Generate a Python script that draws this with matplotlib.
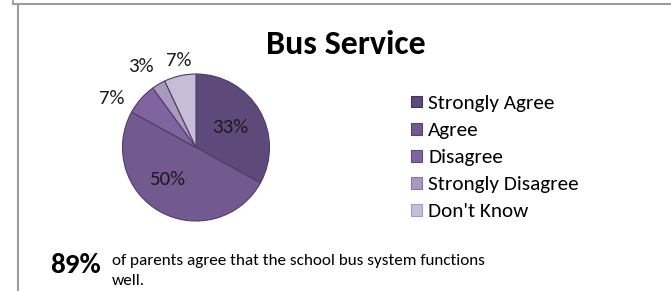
import matplotlib
matplotlib.use("Agg")
import matplotlib.pyplot as plt
from matplotlib.patches import Rectangle
from matplotlib.lines import Line2D
import colorsys
import matplotlib.colors as mcolors

# ---- data ----
categories = ["Strongly Agree", "Agree", "Disagree", "Strongly Disagree", "Don't Know"]
values = [33, 50, 7, 3, 7]
pct_labels = ["33%", "50%", "7%", "3%", "7%"]
title = "Bus Service"
headline_value = "89%"
headline_text = ["of parents agree that the school bus system functions", "well."]

# ---- style ----
colors = ["#5E4A7A", "#725A90", "#8064A2", "#A99ABD", "#C8BDD8"]
edge = "#4E3D66"
label_dist = [0.54, 0.59, 1.33, 1.33, 1.20]
label_ang_off = [0.4, -13.1, 11.3, 3.7, -1.6]
FONT = ["Carlito", "DejaVu Sans"]

W, H = 671, 291
fig = plt.figure(figsize=(W / 100, H / 100), dpi=100)
fig.patch.set_facecolor("white")

def fx(px):
    return px / W

def fy(py):
    return 1 - py / H

# border lines
border = "#9C9C9C"
fig.add_artist(Line2D([fx(13), fx(13)], [fy(0), fy(4)], color=border, lw=1.3, transform=fig.transFigure))
fig.add_artist(Line2D([fx(13), fx(W)], [fy(4), fy(4)], color=border, lw=1.5, transform=fig.transFigure))
fig.add_artist(Line2D([fx(18), fx(18)], [fy(4), fy(H)], color=border, lw=1.5, transform=fig.transFigure))

# pie
cx, cy, r = 196, 147.5, 73.5
ax = fig.add_axes([fx(cx - r), fy(cy + r), 2 * r / W, 2 * r / H])
wedges, _ = ax.pie(values, startangle=90, counterclock=False, colors=colors,
                   wedgeprops=dict(edgecolor=edge, linewidth=0.8))
ax.set_xlim(-1, 1)
ax.set_ylim(-1, 1)
ax.set_aspect("auto")
ax.axis("off")

import math
for w, lab, d, off in zip(wedges, pct_labels, label_dist, label_ang_off):
    mid = (w.theta1 + w.theta2) / 2 + off
    x = d * math.cos(math.radians(mid))
    y = d * math.sin(math.radians(mid))
    ax.text(x, y, lab, ha="center", va="center", fontsize=15, family=FONT,
            color="#1A1A1A", clip_on=False)

# title
fig.text(fx(345.5), fy(53.5), title, ha="center", va="baseline", fontsize=24.5,
         fontweight="bold", family=FONT, color="black")

# legend (manual)
sq = 11.5
for i, (cat, col) in enumerate(zip(categories, colors)):
    yc = 101.7 + 27.1 * i
    rgb = mcolors.to_rgb(col)
    h, l, s = colorsys.rgb_to_hls(*rgb)
    ec = colorsys.hls_to_rgb(h, max(0, l - 0.12), s)
    fig.add_artist(Rectangle((fx(411), fy(yc + sq / 2)), sq / W, sq / H,
                             transform=fig.transFigure, facecolor=col,
                             edgecolor=ec, linewidth=0.8))
    fig.text(fx(428), fy(yc), cat, ha="left", va="center_baseline", fontsize=15.3,
             family=FONT, color="black")

# bottom text
fig.text(fx(50), fy(273.3), headline_value, ha="left", va="baseline", fontsize=21,
         fontweight="bold", family=FONT, color="black")
fig.text(fx(111.5), fy(265), headline_text[0], ha="left", va="baseline", fontsize=12.3,
         family=FONT, color="black")
fig.text(fx(111.5), fy(285), headline_text[1], ha="left", va="baseline", fontsize=12.3,
         family=FONT, color="black")

fig.savefig("out.png", dpi=100, facecolor="white")
